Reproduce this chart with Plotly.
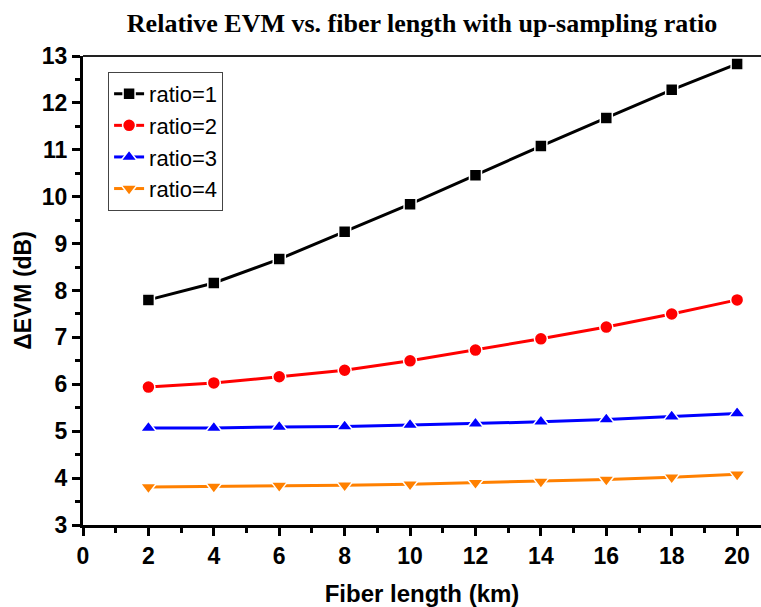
import plotly.graph_objects as go

# Fiber lengths (km) and relative EVM (dB) per up-sampling ratio
fiber_km = [2, 4, 6, 8, 10, 12, 14, 16, 18, 20]
evm_ratio1 = [7.80, 8.16, 8.67, 9.25, 9.84, 10.46, 11.08, 11.68, 12.28, 12.83]
evm_ratio2 = [5.94, 6.03, 6.16, 6.30, 6.50, 6.73, 6.97, 7.22, 7.50, 7.80]
evm_ratio3 = [5.07, 5.07, 5.09, 5.10, 5.13, 5.16, 5.20, 5.25, 5.31, 5.38]
evm_ratio4 = [3.81, 3.82, 3.84, 3.85, 3.87, 3.90, 3.93, 3.97, 4.02, 4.08]

series_names = ["ratio=1", "ratio=2", "ratio=3", "ratio=4"]
x_ticks = [0, 2, 4, 6, 8, 10, 12, 14, 16, 18, 20]
y_ticks = [3, 4, 5, 6, 7, 8, 9, 10, 11, 12, 13]

styles = [
    ("#000000", "square", 12),
    ("#FF0000", "circle", 13),
    ("#0000FF", "triangle-up", 14),
    ("#FF8000", "triangle-down", 14),
]

fig = go.Figure()
for name, ys, (color, symbol, size) in zip(
        series_names, [evm_ratio1, evm_ratio2, evm_ratio3, evm_ratio4], styles):
    fig.add_trace(go.Scatter(
        x=fiber_km, y=ys, name=name, mode="lines+markers",
        line=dict(color=color, width=3),
        marker=dict(symbol=symbol, size=size, color=color,
                    line=dict(color="white", width=1.5)),
    ))

axis_font = dict(family="Liberation Sans, Arial", size=23, color="black", weight="bold")

fig.update_layout(
    width=761, height=607,
    margin=dict(l=83, r=0, t=56, b=82),
    paper_bgcolor="white", plot_bgcolor="white",
    title=dict(
        text="<b>Relative EVM vs. fiber length with up-sampling ratio</b>",
        font=dict(family="Liberation Serif, Times New Roman", size=26, color="black"),
        x=0.5, xref="paper", xanchor="center", y=0.962, yanchor="middle",
    ),
    showlegend=True,
    legend=dict(
        x=0.037, y=0.966, xanchor="left", yanchor="top",
        bordercolor="#444444", borderwidth=1, bgcolor="white",
        font=dict(family="Liberation Sans, Arial", size=22, color="black"),
        itemsizing="trace",
    ),
    xaxis=dict(
        range=[0, 20.73], tickmode="array", tickvals=x_ticks,
        ticktext=[str(v) for v in x_ticks],
        showgrid=False, zeroline=False,
        showline=True, linecolor="black", linewidth=3,
        ticks="outside", ticklen=8, tickwidth=3, tickcolor="black",
        tickfont=axis_font,
        minor=dict(dtick=1, tick0=0, ticks="outside", ticklen=5, tickwidth=3,
                   tickcolor="black", showgrid=False),
        title=dict(text="<b>Fiber length (km)</b>",
                   font=dict(family="Liberation Sans, Arial", size=24, color="black"),
                   standoff=18),
    ),
    yaxis=dict(
        range=[3, 13], tickmode="array", tickvals=y_ticks,
        ticktext=[str(v) for v in y_ticks],
        showgrid=False, zeroline=False,
        showline=True, linecolor="black", linewidth=3,
        ticks="outside", ticklen=8, tickwidth=3, tickcolor="black",
        tickfont=axis_font,
        minor=dict(dtick=0.5, tick0=3, ticks="outside", ticklen=5, tickwidth=3,
                   tickcolor="black", showgrid=False),
        title=dict(text="<b>ΔEVM (dB)</b>",
                   font=dict(family="Liberation Sans, Arial", size=23, color="black"),
                   standoff=4),
    ),
)

# Top frame line
fig.add_shape(type="line", xref="paper", yref="paper", x0=0, x1=1, y0=1, y1=1,
              line=dict(color="#222222", width=2))

fig.write_html("out.html")
